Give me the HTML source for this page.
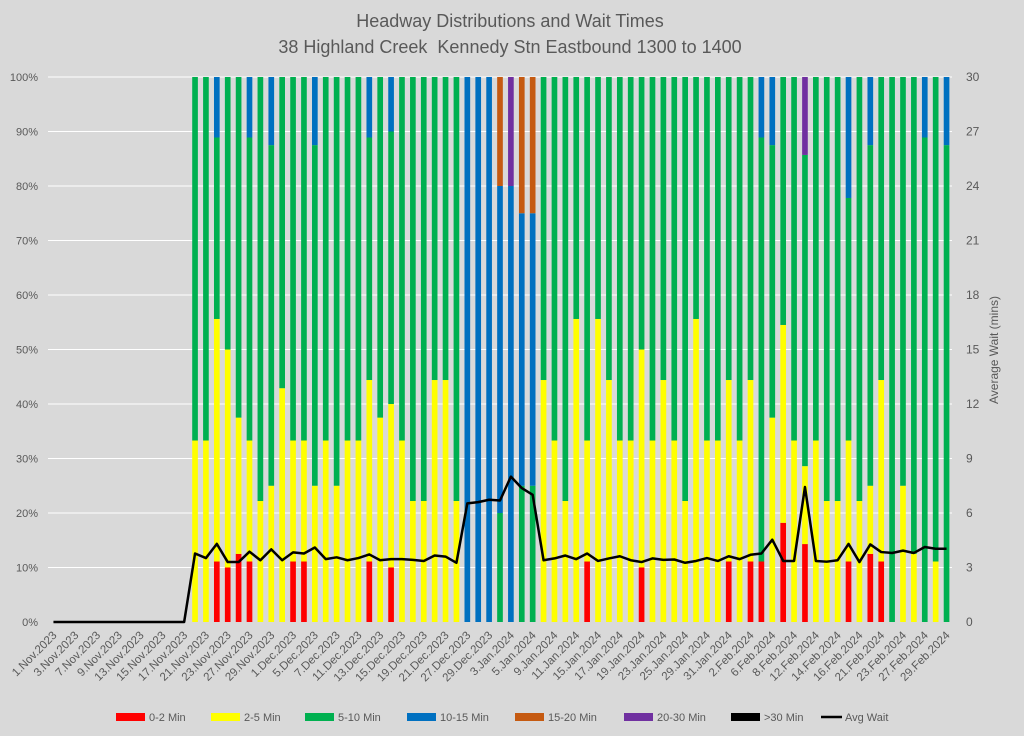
<!DOCTYPE html>
<html><head><meta charset="utf-8"><style>
html,body{margin:0;padding:0;background:#d9d9d9;}
svg{display:block;font-family:"Liberation Sans",sans-serif;}
</style></head><body>
<svg id="chart" width="1024" height="736" viewBox="0 0 1024 736" xmlns="http://www.w3.org/2000/svg">
<rect x="0" y="0" width="1024" height="736" fill="#d9d9d9"/>
<text x="510" y="27" text-anchor="middle" font-size="18" fill="#595959">Headway Distributions and Wait Times</text>
<text x="510" y="53" text-anchor="middle" font-size="18" fill="#595959" xml:space="preserve">38 Highland Creek  Kennedy Stn Eastbound 1300 to 1400</text>
<text transform="translate(998,350) rotate(-90)" text-anchor="middle" font-size="12" fill="#595959">Average Wait (mins)</text>
<g id="grid"></g><g id="bars"></g><g id="line"></g><g id="axes"></g><g id="legend"></g>
</svg>
<script>
const categories = ["1.Nov.2023","2.Nov.2023","3.Nov.2023","6.Nov.2023","7.Nov.2023","8.Nov.2023","9.Nov.2023","10.Nov.2023","13.Nov.2023","14.Nov.2023","15.Nov.2023","16.Nov.2023","17.Nov.2023","20.Nov.2023","21.Nov.2023","22.Nov.2023","23.Nov.2023","24.Nov.2023","27.Nov.2023","28.Nov.2023","29.Nov.2023","30.Nov.2023","1.Dec.2023","4.Dec.2023","5.Dec.2023","6.Dec.2023","7.Dec.2023","8.Dec.2023","11.Dec.2023","12.Dec.2023","13.Dec.2023","14.Dec.2023","15.Dec.2023","18.Dec.2023","19.Dec.2023","20.Dec.2023","21.Dec.2023","22.Dec.2023","27.Dec.2023","28.Dec.2023","29.Dec.2023","2.Jan.2024","3.Jan.2024","4.Jan.2024","5.Jan.2024","8.Jan.2024","9.Jan.2024","10.Jan.2024","11.Jan.2024","12.Jan.2024","15.Jan.2024","16.Jan.2024","17.Jan.2024","18.Jan.2024","19.Jan.2024","22.Jan.2024","23.Jan.2024","24.Jan.2024","25.Jan.2024","26.Jan.2024","29.Jan.2024","30.Jan.2024","31.Jan.2024","1.Feb.2024","2.Feb.2024","5.Feb.2024","6.Feb.2024","7.Feb.2024","8.Feb.2024","9.Feb.2024","12.Feb.2024","13.Feb.2024","14.Feb.2024","15.Feb.2024","16.Feb.2024","20.Feb.2024","21.Feb.2024","22.Feb.2024","23.Feb.2024","26.Feb.2024","27.Feb.2024","28.Feb.2024","29.Feb.2024"];
const min0to2 = [0,0,0,0,0,0,0,0,0,0,0,0,0, 0,0,11.1,10,12.5,11.1,0,0,0,11.1,11.1,0,0,0,0,0,11.1,0,10,0,0,0,0,0,0, 0,0,0,0,0,0,0, 0,0,0,0,11.1,0,0,0,0,10,0,0,0,0,0,0,0,11.1,0,11.1,11.1,0,18.2,0,14.3,0,0,0,11.1,0,12.5,11.1,0,0,0,0,0,0];
const min2to5 = [0,0,0,0,0,0,0,0,0,0,0,0,0, 33.3,33.3,44.5,40,25,22.2,22.2,25,42.9,22.2,22.2,25,33.3,25,33.3,33.3,33.3,37.5,30,33.3,22.2,22.2,44.4,44.4,22.2, 0,0,0,0,0,0,0, 44.4,33.3,22.2,55.6,22.2,55.6,44.4,33.3,33.3,40,33.3,44.4,33.3,22.2,55.6,33.3,33.3,33.3,33.3,33.3,0,37.5,36.3,33.3,14.3,33.3,22.2,22.2,22.2,22.2,12.5,33.3,0,25,12.5,0,11.1,0];
const min5to10 = [0,0,0,0,0,0,0,0,0,0,0,0,0, 66.7,66.7,33.3,50,62.5,55.6,77.8,62.5,57.1,66.7,66.7,62.5,66.7,75,66.7,66.7,44.5,62.5,50,66.7,77.8,77.8,55.6,55.6,77.8, 0,0,0,20,0,25,25, 55.6,66.7,77.8,44.4,66.7,44.4,55.6,66.7,66.7,50,66.7,55.6,66.7,77.8,44.4,66.7,66.7,55.6,66.7,55.6,77.8,50,45.5,66.7,57.1,66.7,77.8,77.8,44.5,77.8,62.5,55.6,100,75,87.5,88.9,88.9,87.5];
const min10to15 = [0,0,0,0,0,0,0,0,0,0,0,0,0, 0,0,11.1,0,0,11.1,0,12.5,0,0,0,12.5,0,0,0,0,11.1,0,10,0,0,0,0,0,0, 100,100,100,60,80,50,50, 0,0,0,0,0,0,0,0,0,0,0,0,0,0,0,0,0,0,0,0,11.1,12.5,0,0,0,0,0,0,22.2,0,12.5,0,0,0,0,11.1,0,12.5];
const min15to20 = [0,0,0,0,0,0,0,0,0,0,0,0,0, 0,0,0,0,0,0,0,0,0,0,0,0,0,0,0,0,0,0,0,0,0,0,0,0,0, 0,0,0,20,0,25,25, 0,0,0,0,0,0,0,0,0,0,0,0,0,0,0,0,0,0,0,0,0,0,0,0,0,0,0,0,0,0,0,0,0,0,0,0,0,0];
const min20to30 = [0,0,0,0,0,0,0,0,0,0,0,0,0, 0,0,0,0,0,0,0,0,0,0,0,0,0,0,0,0,0,0,0,0,0,0,0,0,0, 0,0,0,0,20,0,0, 0,0,0,0,0,0,0,0,0,0,0,0,0,0,0,0,0,0,0,0,0,0,0,0,14.3,0,0,0,0,0,0,0,0,0,0,0,0,0];
const min30plus = categories.map(()=>0);
const avgWait = [0,0,0,0,0,0,0,0,0,0,0,0,0, 3.77,3.52,4.3,3.3,3.3,3.87,3.4,4.0,3.4,3.83,3.77,4.1,3.46,3.56,3.4,3.52,3.72,3.4,3.46,3.46,3.42,3.36,3.66,3.6,3.26, 6.53,6.6,6.73,6.69,8.0,7.37,7.0, 3.4,3.5,3.66,3.46,3.77,3.36,3.5,3.62,3.4,3.3,3.5,3.42,3.44,3.26,3.36,3.52,3.36,3.62,3.46,3.7,3.77,4.53,3.36,3.36,7.43,3.36,3.32,3.4,4.3,3.3,4.27,3.85,3.8,3.93,3.8,4.13,4.03,4.03];
const leftTicks = ["0%","10%","20%","30%","40%","50%","60%","70%","80%","90%","100%"];
const rightTicks = ["0","3","6","9","12","15","18","21","24","27","30"];
const seriesNames = ["0-2 Min","2-5 Min","5-10 Min","10-15 Min","15-20 Min","20-30 Min",">30 Min"];

const NS="http://www.w3.org/2000/svg";
const X0=48, X1=952, Y0=622, Y1=77;
const step=(X1-X0)/categories.length;
function xc(i){return X0+step*(i+0.5);}
function yPct(p){return Y0-(Y0-Y1)*p/100;}
function yWait(w){return Y0-(Y0-Y1)*w/30;}
function mk(tag,attrs,parent){const e=document.createElementNS(NS,tag);for(const k in attrs)e.setAttribute(k,attrs[k]);parent.appendChild(e);return e;}
const colors=["#ff0000","#ffff00","#00b050","#0070c0","#c55a11","#7030a0","#000000"];
const series=[min0to2,min2to5,min5to10,min10to15,min15to20,min20to30,min30plus];
const gGrid=document.getElementById('grid'),gBars=document.getElementById('bars'),gLine=document.getElementById('line'),gAx=document.getElementById('axes'),gLeg=document.getElementById('legend');

leftTicks.forEach((t,k)=>{
  const y=yPct(k*10);
  if(k>0){const l=mk('line',{x1:X0,x2:X1,y1:y,y2:y,stroke:'#ffffff','stroke-width':1},gGrid);
  
  }
  const tl=mk('text',{x:38,y:y+4,'text-anchor':'end','font-size':11,fill:'#595959'},gAx);tl.textContent=t;
  
  
  const tr=mk('text',{x:966,y:y+4,'text-anchor':'start','font-size':12,fill:'#595959'},gAx);tr.textContent=rightTicks[k];
  
  
});
const bw=step*0.52;
categories.forEach((c,i)=>{
  let cum=0;
  series.forEach((s,j)=>{
    const v=s[i]; if(!v) return;
    const r=mk('rect',{x:xc(i)-bw/2,y:yPct(cum+v),width:bw,height:yPct(cum)-yPct(cum+v),fill:colors[j]},gBars);
    
    
    cum+=v;
  });
  if(i%2===0){
    const x=xc(i)+4, y=Y0+14;
    const t=mk('text',{x:x,y:y,'text-anchor':'end','font-size':11.5,fill:'#595959',transform:`rotate(-45 ${x} ${y})`},gAx);
    t.textContent=c;
    
    
  }
});
const pl=mk('polyline',{points:avgWait.map((w,i)=>xc(i)+','+yWait(w)).join(' '),fill:'none',stroke:'#000','stroke-width':2.5,'stroke-linejoin':'round'},gLine);



const legX=[116,211,305,407,515,624,731];
seriesNames.forEach((n,j)=>{
  const r=mk('rect',{x:legX[j],y:713,width:29,height:8,fill:colors[j]},gLeg);
  
  
  const t=mk('text',{x:legX[j]+33,y:721,'font-size':11,fill:'#595959'},gLeg);t.textContent=n;
  
  
});
const ll=mk('line',{x1:821,x2:842,y1:717,y2:717,stroke:'#000','stroke-width':2.5},gLeg);


const lt=mk('text',{x:845,y:721,'font-size':11,fill:'#595959'},gLeg);lt.textContent='Avg Wait';


</script>
</body></html>
